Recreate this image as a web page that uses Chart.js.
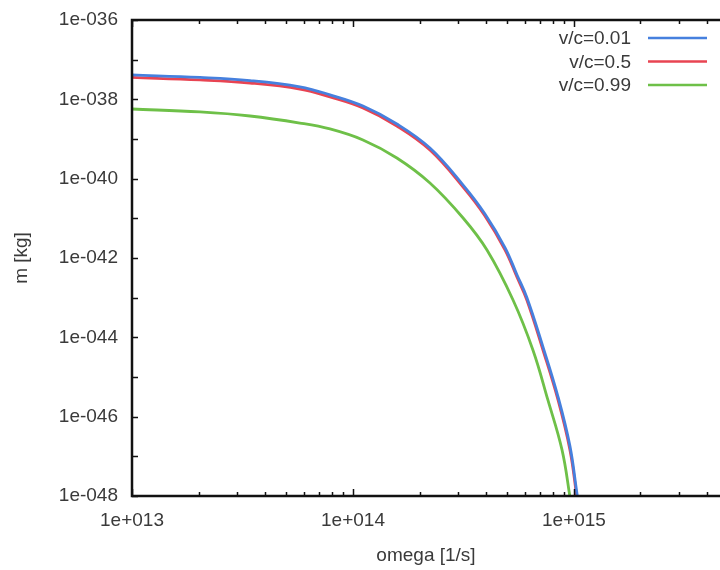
<!DOCTYPE html>
<html>
<head>
<meta charset="utf-8">
<script src="https://cdn.jsdelivr.net/npm/chart.js@4/dist/chart.umd.min.js"></script>
<style>
  body { margin: 0; background: #fff; }
  canvas { display: block; }
</style>
</head>
<body>
<canvas id="chart" width="720" height="570"></canvas>
<script>

  /*
    ==================================================
    ====================== DATA ======================
    ==================================================
  */

  let seriesLabels = ['v/c=0.01', 'v/c=0.5', 'v/c=0.99'];
  let seriesColors = ['rgb(70, 128, 222)', 'rgb(232, 68, 82)', 'rgb(110, 192, 72)'];

  // omega [1/s] / m [kg]
  let omegaA = [1e13, 2.03e13, 3.42e13, 5.75e13, 7.87e13, 1.11e14, 1.58e14, 2.23e14, 3.15e14,
    3.95e14, 4.88e14, 5.52e14, 6.12e14, 7.24e14, 8.47e14, 9.59e14, 1.03e15, 1.06e15];
  let massBlue = [4.12e-38, 3.56e-38, 2.97e-38, 2.07e-38, 1.3e-38, 6.78e-39, 2.39e-39, 5.91e-40, 6.91e-41,
    1.31e-41, 1.81e-42, 3.78e-43, 1.01e-43, 5.76e-45, 3.17e-46, 1.81e-47, 1.23e-48, 4.1e-49];
  let massRed = [3.56e-38, 3.08e-38, 2.58e-38, 1.82e-38, 1.15e-38, 6.05e-39, 2.13e-39, 5.28e-40, 6.17e-41,
    1.17e-41, 1.59e-42, 3.32e-43, 8.75e-44, 4.8e-45, 2.64e-46, 1.45e-47, 9.46e-49, 2.95e-49];

  let omegaB = [1e13, 2.03e13, 3.42e13, 5.75e13, 7.87e13, 1.11e14, 1.58e14, 2.23e14, 3.15e14,
    4.04e14, 5.3e14, 6.52e14, 7.62e14, 8.83e14, 9.59e14, 9.89e14];
  let massGreen = [5.7e-39, 4.8e-39, 3.8e-39, 2.53e-39, 1.79e-39, 9.44e-40, 3.32e-40, 7.78e-41, 1.02e-41,
    1.59e-42, 8.75e-44, 4.8e-45, 2.64e-46, 1.45e-47, 9.46e-49, 2.95e-49];

  let xTickValues = [1e13, 1e14, 1e15];
  let xTickLabels = ['1e+013', '1e+014', '1e+015'];
  let yTickValues = [1e-36, 1e-38, 1e-40, 1e-42, 1e-44, 1e-46, 1e-48];
  let yTickLabels = ['1e-036', '1e-038', '1e-040', '1e-042', '1e-044', '1e-046', '1e-048'];

  /*
    ==================================================
    ===================== CHART ======================
    ==================================================
  */

  let font = { family: "'Liberation Sans', Arial, sans-serif", size: 19 };
  let textColor = '#3a3a3a';

  let toPoints = (xs, ys) => xs.map((x, i) => ({ x, y: ys[i] }));

  // frame with inward ticks (gnuplot style) + legend inside top right
  let framePlugin = {
    id: 'frame',
    afterDatasetsDraw(chart) {
      let { ctx, chartArea: a, scales: { x, y } } = chart;
      ctx.save();
      ctx.strokeStyle = '#111';
      ctx.lineWidth = 1.5;

      ctx.beginPath();
      // x ticks, major + minor, bottom and top
      for (let e = 13; e <= 15; e++) {
        for (let k = 1; k <= 9; k++) {
          let v = k * 10 ** e;
          if (v > x.max) break;
          let px = Math.round(x.getPixelForValue(v)) + 0.5;
          let len = k === 1 ? 7 : 4;
          ctx.moveTo(px, a.bottom); ctx.lineTo(px, a.bottom - len);
          ctx.moveTo(px, a.top); ctx.lineTo(px, a.top + len);
        }
      }
      // y ticks every decade
      for (let e = -48; e <= -36; e++) {
        let py = Math.round(y.getPixelForValue(10 ** e)) + 0.5;
        ctx.moveTo(a.left, py); ctx.lineTo(a.left + 6, py);
      }
      ctx.stroke();

      ctx.lineWidth = 2.5;
      ctx.beginPath();
      ctx.moveTo(a.right + 2, a.top);
      ctx.lineTo(a.left, a.top);
      ctx.lineTo(a.left, a.bottom);
      ctx.lineTo(a.right + 2, a.bottom);
      ctx.stroke();

      // legend
      ctx.font = `${font.size}px ${font.family}`;
      ctx.textAlign = 'right';
      ctx.textBaseline = 'middle';
      chart.data.datasets.forEach((ds, i) => {
        let ly = 38 + i * 23.5;
        ctx.fillStyle = textColor;
        ctx.fillText(ds.label, 631, ly + 1);
        ctx.strokeStyle = ds.borderColor;
        ctx.lineWidth = 2.5;
        ctx.beginPath();
        ctx.moveTo(648, ly);
        ctx.lineTo(707, ly);
        ctx.stroke();
      });
      ctx.restore();
    }
  };

  new Chart(document.getElementById('chart').getContext('2d'), {
    type: 'line',
    data: {
      datasets: [
        { label: seriesLabels[0], data: toPoints(omegaA, massBlue), borderColor: seriesColors[0] },
        { label: seriesLabels[1], data: toPoints(omegaA, massRed), borderColor: seriesColors[1] },
        { label: seriesLabels[2], data: toPoints(omegaB, massGreen), borderColor: seriesColors[2] }
      ].map(ds => ({ ...ds, borderWidth: 2.8, pointRadius: 0, tension: 0.4, fill: false }))
    },
    options: {
      responsive: false,
      animation: false,
      layout: { padding: { top: 20, right: 0, bottom: 0, left: 0 } },
      plugins: { legend: { display: false }, tooltip: { enabled: false } },
      scales: {
        x: {
          type: 'logarithmic',
          min: 1e13,
          max: 4.58e15,
          grid: { display: false, drawTicks: false },
          border: { display: false },
          afterBuildTicks: s => { s.ticks = xTickValues.map(value => ({ value })); },
          afterFit: s => { s.height = 74; s.paddingLeft = 0; s.paddingRight = 0; },
          ticks: {
            autoSkip: false,
            maxRotation: 0,
            padding: 13,
            color: textColor,
            font,
            callback: (v, i) => xTickLabels[i]
          },
          title: { display: true, text: 'omega [1/s]', color: textColor, font, padding: { top: 0, bottom: 3 } }
        },
        y: {
          type: 'logarithmic',
          min: 1e-48,
          max: 1e-36,
          grid: { display: false, drawTicks: false },
          border: { display: false },
          afterBuildTicks: s => { s.ticks = yTickValues.map(value => ({ value })); },
          afterFit: s => { s.width = 132; s.paddingTop = 0; s.paddingBottom = 0; },
          ticks: {
            autoSkip: false,
            padding: 14,
            color: textColor,
            font,
            callback: (v, i) => yTickLabels[i]
          },
          title: { display: true, text: 'm [kg]', color: textColor, font, padding: { top: 10, bottom: 0 } }
        }
      }
    },
    plugins: [framePlugin]
  });

</script>
</body>
</html>
